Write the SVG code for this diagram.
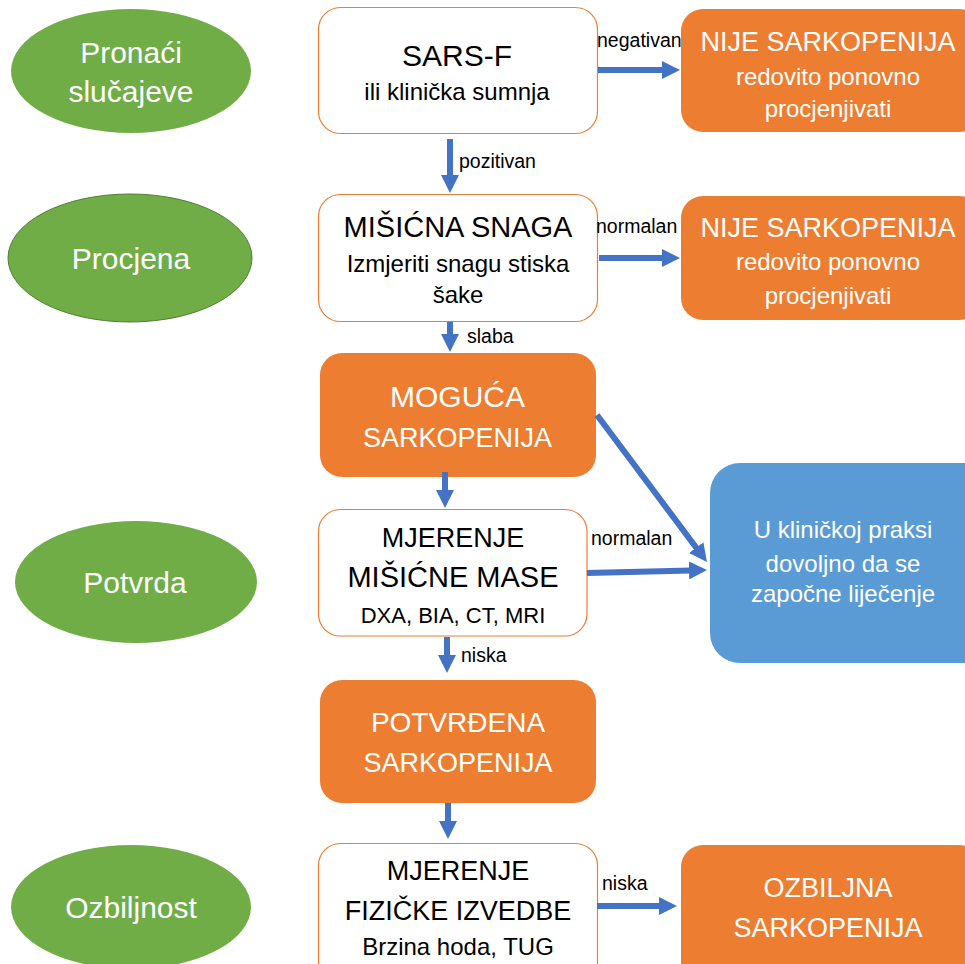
<svg xmlns="http://www.w3.org/2000/svg" width="965" height="964" viewBox="0 0 965 964">
<defs>
<marker id="ah" markerUnits="userSpaceOnUse" markerWidth="18" markerHeight="18" refX="2" refY="9" orient="auto">
<path d="M0,0 L18,9 L0,18 Z" fill="#4472C4"/>
</marker>
<style>
text{font-family:"Liberation Sans",Arial,sans-serif;text-anchor:middle}
.ell{fill:#70AD47}
.box{fill:#FFFFFF;stroke:#ED7D31;stroke-width:1.2}
.obox{fill:#ED7D31}
.bbox{fill:#5B9BD5}
.w{fill:#FFFFFF}
.k{fill:#000000}
.t30{font-size:30px}
.t27{font-size:27px}
.t28{font-size:28px}
.t29{font-size:29px}
.t24{font-size:24px}
.t22{font-size:22px}
.lbl{font-size:19.5px;fill:#000000;text-anchor:start}
.arr{stroke:#4472C4;stroke-width:6;fill:none;marker-end:url(#ah)}
</style>
</defs>
<rect width="965" height="964" fill="#FFFFFF"/>

<g id="stage-pronaci">
<ellipse class="ell" cx="131" cy="71" rx="120" ry="62"/>
<text class="t30 w" x="131" y="63">Pronaći</text>
<text class="t30 w" x="131" y="102">slučajeve</text>
</g>
<g id="stage-procjena">
<ellipse class="ell" cx="130" cy="258" rx="122" ry="64" stroke="#507E32" stroke-width="1"/>
<text class="t30 w" x="131" y="269">Procjena</text>
</g>
<g id="stage-potvrda">
<ellipse class="ell" cx="136" cy="582" rx="121" ry="61"/>
<text class="t30 w" x="135" y="593">Potvrda</text>
</g>
<g id="stage-ozbiljnost">
<ellipse class="ell" cx="131" cy="907" rx="120" ry="62"/>
<text class="t30 w" x="131" y="918">Ozbiljnost</text>
</g>

<g id="sarsf">
<rect class="box" x="318.5" y="7.5" width="279" height="126" rx="22"/>
<text class="t30 k" x="457" y="66">SARS-F</text>
<text class="t24 k" x="457" y="100">ili klinička sumnja</text>
</g>
<g id="nije1">
<rect class="obox" x="681" y="9" width="300" height="123" rx="22"/>
<text class="t27 w" x="828" y="51">NIJE SARKOPENIJA</text>
<text class="t24 w" x="828" y="85">redovito ponovno</text>
<text class="t24 w" x="828" y="117">procjenjivati</text>
</g>
<g id="snaga">
<rect class="box" x="318.5" y="194.5" width="279" height="127" rx="22"/>
<text class="t29 k" x="458" y="237">MIŠIĆNA SNAGA</text>
<text class="t24 k" x="458" y="272">Izmjeriti snagu stiska</text>
<text class="t24 k" x="458" y="303">šake</text>
</g>
<g id="nije2">
<rect class="obox" x="681" y="196" width="300" height="124" rx="22"/>
<text class="t27 w" x="828" y="237">NIJE SARKOPENIJA</text>
<text class="t24 w" x="828" y="270">redovito ponovno</text>
<text class="t24 w" x="828" y="304">procjenjivati</text>
</g>
<g id="moguca">
<rect class="obox" x="320" y="353" width="276" height="124" rx="22"/>
<text class="t30 w" x="457.5" y="407">MOGUĆA</text>
<text class="t27 w" x="457.5" y="447">SARKOPENIJA</text>
</g>
<g id="masa">
<rect class="box" x="318.5" y="509.5" width="268.5" height="126.5" rx="22"/>
<text class="t27 k" x="453" y="547">MJERENJE</text>
<text class="t29 k" x="453" y="587">MIŠIĆNE MASE</text>
<text class="t22 k" x="453" y="623">DXA, BIA, CT, MRI</text>
</g>
<g id="praksa">
<rect class="bbox" x="710" y="463" width="290" height="200" rx="30"/>
<text class="t24 w" x="843" y="538">U kliničkoj praksi</text>
<text class="t24 w" x="843" y="572">dovoljno da se</text>
<text class="t24 w" x="843" y="602">započne liječenje</text>
</g>
<g id="potvrdena">
<rect class="obox" x="320" y="680" width="276" height="123" rx="22"/>
<text class="t28 w" x="458" y="732">POTVRĐENA</text>
<text class="t27 w" x="458" y="772">SARKOPENIJA</text>
</g>
<g id="izvedba">
<rect class="box" x="318.5" y="843.5" width="279" height="140" rx="22"/>
<text class="t27 k" x="458" y="880">MJERENJE</text>
<text class="t27 k" x="458" y="920">FIZIČKE IZVEDBE</text>
<text class="t24 k" x="458" y="955">Brzina hoda, TUG</text>
</g>
<g id="ozbiljna">
<rect class="obox" x="681" y="845" width="300" height="140" rx="22"/>
<text class="t27 w" x="828" y="897">OZBILJNA</text>
<text class="t27 w" x="828" y="937">SARKOPENIJA</text>
</g>

<g id="connectors">
<line class="arr" x1="598" y1="70" x2="664" y2="70"/>
<line class="arr" x1="450" y1="139" x2="450" y2="177"/>
<line class="arr" x1="599" y1="258" x2="664" y2="258"/>
<line class="arr" x1="450" y1="322" x2="450" y2="336"/>
<line class="arr" x1="445" y1="472" x2="445" y2="492"/>
<line class="arr" x1="597" y1="415" x2="697.4" y2="549.2"/>
<line class="arr" x1="587" y1="573" x2="691" y2="570.4"/>
<line class="arr" x1="447" y1="637" x2="447" y2="657"/>
<line class="arr" x1="448" y1="803" x2="448" y2="823"/>
<line class="arr" x1="597" y1="906" x2="661" y2="906"/>
<text class="lbl" x="597" y="47">negativan</text>
<text class="lbl" x="459" y="168">pozitivan</text>
<text class="lbl" x="596" y="233">normalan</text>
<text class="lbl" x="467" y="343">slaba</text>
<text class="lbl" x="591" y="545">normalan</text>
<text class="lbl" x="461" y="662">niska</text>
<text class="lbl" x="602" y="890">niska</text>
</g>
</svg>
